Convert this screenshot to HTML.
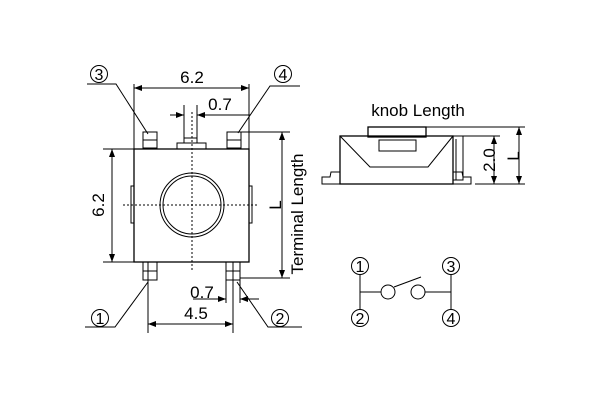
<!DOCTYPE html><html><head><style>body{margin:0;background:#fff}svg{display:block}</style></head><body>
<svg width="600" height="400" viewBox="0 0 600 400" xmlns="http://www.w3.org/2000/svg" font-family="Liberation Sans, Arial, sans-serif" fill="none" stroke="#000" stroke-width="1">
<defs><marker id="a" markerWidth="8" markerHeight="6" refX="8" refY="3" orient="auto-start-reverse" markerUnits="userSpaceOnUse"><path d="M0,0L8,3L0,6z" fill="#000" stroke="none"/></marker></defs>
<rect x="134" y="149" width="115" height="113" stroke-width="1.3"/>
<rect x="143" y="132" width="14" height="16"/><line x1="143" y1="140" x2="157" y2="140"/>
<rect x="227" y="132" width="14" height="16"/><line x1="227" y1="140" x2="241" y2="140"/>
<rect x="177" y="143" width="29" height="6"/><rect x="184" y="138" width="13" height="5"/>
<rect x="143" y="262" width="14" height="18"/><line x1="143" y1="271" x2="157" y2="271"/>
<rect x="226" y="262" width="14" height="18"/><line x1="226" y1="271" x2="240" y2="271"/>
<rect x="131" y="186" width="3" height="37"/><rect x="249" y="186" width="3" height="37"/>
<circle cx="192" cy="205" r="32"/><circle cx="192" cy="205" r="29"/>
<line x1="123" y1="205" x2="258" y2="205" stroke-dasharray="2,2"/>
<line x1="192" y1="112" x2="192" y2="271" stroke-dasharray="2,2"/>
<line x1="134" y1="84" x2="134" y2="149"/><line x1="249" y1="84" x2="249" y2="149"/>
<line x1="134" y1="88" x2="249" y2="88" marker-start="url(#a)" marker-end="url(#a)"/>
<line x1="184" y1="105" x2="184" y2="138"/><line x1="197" y1="105" x2="197" y2="138"/>
<line x1="170" y1="115" x2="184" y2="115" marker-end="url(#a)"/><line x1="250" y1="115" x2="197" y2="115" marker-end="url(#a)"/>
<line x1="103" y1="149" x2="134" y2="149"/><line x1="103" y1="262" x2="134" y2="262"/>
<line x1="112" y1="149" x2="112" y2="262" marker-start="url(#a)" marker-end="url(#a)"/>
<line x1="241" y1="132" x2="290" y2="132"/><line x1="240" y1="278" x2="290" y2="278"/>
<line x1="282" y1="132" x2="282" y2="278" marker-start="url(#a)" marker-end="url(#a)"/>
<line x1="148" y1="262" x2="148" y2="333"/><line x1="233" y1="262" x2="233" y2="333"/>
<line x1="148" y1="324" x2="233" y2="324" marker-start="url(#a)" marker-end="url(#a)"/>
<line x1="226" y1="280" x2="226" y2="303"/><line x1="240" y1="280" x2="240" y2="303"/>
<line x1="193" y1="299" x2="226" y2="299" marker-end="url(#a)"/><line x1="259" y1="299" x2="240" y2="299" marker-end="url(#a)"/>
<g fill="#000" stroke="none" font-size="17" text-anchor="middle">
<text x="192" y="83">6.2</text><text x="220" y="110">0.7</text>
<text x="196" y="319">4.5</text><text x="202" y="298">0.7</text>
<text transform="translate(104,205) rotate(-90)">6.2</text>
<text transform="translate(281,205) rotate(-90)">L</text>
<text transform="translate(303,214) rotate(-90)">Terminal Length</text>
<text x="418" y="116">knob Length</text>
<text transform="translate(495,160) rotate(-90)">2.0</text>
<text transform="translate(519,156) rotate(-90)">L</text>
</g>
<g font-size="16" text-anchor="middle">
<circle cx="99" cy="74" r="8.5"/><circle cx="283" cy="74" r="8.5"/><circle cx="100" cy="318" r="8.5"/><circle cx="280" cy="318" r="8.5"/>
<g fill="#000" stroke="none"><text x="99" y="80">3</text><text x="283" y="80">4</text><text x="100" y="324">1</text><text x="280" y="324">2</text></g>
</g>
<polyline points="87,84 116,84 148,134"/><polyline points="300,86 270,86 238,133"/>
<polyline points="85,327 115,327 148,282"/><polyline points="302,327 268,327 237,282"/>
<rect x="340" y="136" width="113" height="48" stroke-width="1.3"/>
<rect x="368" y="127" width="58" height="10" stroke-width="1.3"/>
<rect x="379" y="140" width="37" height="11"/>
<polyline points="340,136 370,167 428,167 453,136"/>
<rect x="453" y="136" width="10" height="44"/><line x1="456" y1="139" x2="456" y2="180"/>
<polyline points="340,172 331,172 330,177 322,177 322,184 340,184"/>
<polyline points="453,172 462,172 463,177 471,177 471,184 453,184"/>
<line x1="426" y1="127" x2="525" y2="127"/><line x1="463" y1="136" x2="500" y2="136"/><line x1="475" y1="184" x2="525" y2="184"/>
<line x1="494" y1="136" x2="494" y2="184" marker-start="url(#a)" marker-end="url(#a)"/>
<line x1="519" y1="127" x2="519" y2="184" marker-start="url(#a)" marker-end="url(#a)"/>
<circle cx="360" cy="266" r="8.5"/><circle cx="360" cy="318" r="8.5"/><circle cx="451" cy="266" r="8.5"/><circle cx="451" cy="318" r="8.5"/>
<g fill="#000" stroke="none" font-size="16" text-anchor="middle"><text x="360" y="272">1</text><text x="360" y="324">2</text><text x="451" y="272">3</text><text x="451" y="324">4</text></g>
<line x1="360" y1="274" x2="360" y2="310"/><line x1="451" y1="274" x2="451" y2="310"/>
<line x1="360" y1="292" x2="381" y2="292"/><circle cx="388" cy="292" r="7"/>
<circle cx="418" cy="292" r="7"/><line x1="425" y1="292" x2="451" y2="292"/>
<line x1="394" y1="287" x2="421" y2="277"/>
</svg></body></html>
